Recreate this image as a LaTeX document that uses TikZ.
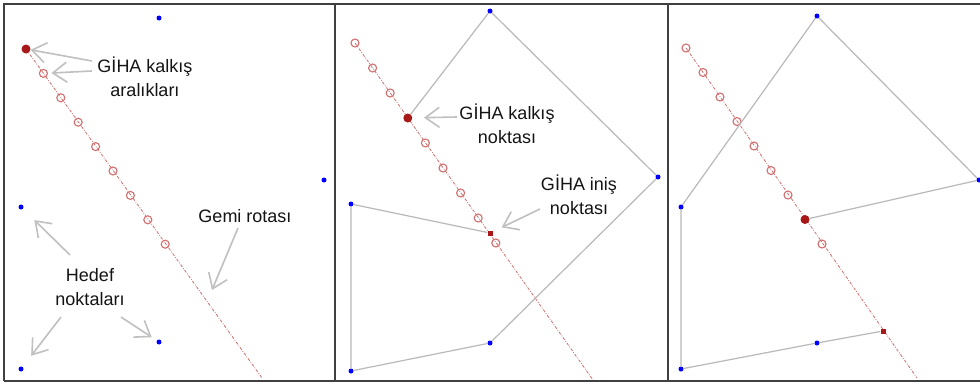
\documentclass[tikz,border=0pt]{standalone}
\usepackage{fontspec}
\setmainfont{Liberation Sans}
\usepackage{tikz}
\usetikzlibrary{arrows.meta,math}
\definecolor{RotaRed}{RGB}{210,110,110}
\definecolor{KalkisRed}{RGB}{168,24,24}
\definecolor{HedefBlue}{RGB}{0,0,255}
\definecolor{LinkGray}{RGB}{185,185,185}
\definecolor{OkGray}{RGB}{192,192,192}
\tikzset{
  hedef/.style={circle,fill=HedefBlue,inner sep=0pt,minimum size=5pt},
  kalkis/.style={circle,fill=KalkisRed,inner sep=0pt,minimum size=9pt},
  inis/.style={rectangle,fill=KalkisRed,inner sep=0pt,minimum size=5pt},
  aralik/.style={circle,draw=RotaRed,line width=1.1pt,inner sep=0pt,minimum size=8pt},
  rota/.style={RotaRed,line width=0.8pt,dash pattern=on 3pt off 1.5pt on 0.8pt off 1.5pt},
  baglanti/.style={LinkGray,line width=1.2pt},
  okcuk/.style={OkGray,line width=1.6pt,-{Straight Barb[length=14pt,width=20pt]}},
  etiket/.style={align=center,font=\fontsize{18}{24}\selectfont,text=black!92}
}

\begin{document}
\begin{tikzpicture}[x=1pt,y=-1pt]
    \tikzmath{
      \dxa=17.4; \dya=24.4; % panel 1 step
      \dxb=17.6; \dyb=25;   % panel 2 step
      \dxc=17;   \dyc=24.5; % panel 3 step
    }
    \useasboundingbox (0,0) rectangle (980,383);
    \fill[white] (0,0) rectangle (980,383);
    % frames
    \draw[black!75,line width=2pt] (4,381) -- (4,3.5) -- (980,3.5);
    \draw[black!75,line width=2pt] (4,381) -- (980,381);
    \draw[black!75,line width=2pt] (334.5,3.5) -- (334.5,381);
    \draw[black!75,line width=2pt] (668,3.5) -- (668,381);

    %% panel 1
    \node[hedef] (h1a) at (159,18) {};
    \node[hedef] (h1b) at (324,180) {};
    \node[hedef] (h1c) at (21,207) {};
    \node[hedef] (h1d) at (159,342) {};
    \node[hedef] (h1e) at (21,369) {};
    \coordinate (r1end) at (262,378);
    \draw[rota] (26,49) -- (r1end);
    \node[kalkis] (r1k) at (26,49) {};
    \foreach \k in {1,...,8}
      \node[aralik] (c1-\k) at (26+\dxa*\k,49+\dya*\k) {};
    \node[etiket] (lblAralik) at (145,77) {GİHA kalkış\\aralıkları};
    \node[etiket] (lblRota) at (245,216) {Gemi rotası};
    \node[etiket] (lblHedef) at (90,287) {Hedef\\noktaları};
    \coordinate (a1s) at (92,61);
    \coordinate (a2s) at (92,71);
    \coordinate (gs) at (238,228);
    \coordinate (gt) at (212,290);
    \coordinate (hs1) at (70,255);
    \coordinate (hs2) at (61,317);
    \coordinate (hs3) at (121,317);
    \draw[okcuk] (a1s) -- (r1k);
    \draw[okcuk,shorten >=3.5pt] (a2s) -- (c1-1);
    \draw[okcuk] (gs) -- (gt);
    \draw[okcuk,shorten >=16pt] (hs1) -- (h1c);
    \draw[okcuk,shorten >=14pt] (hs2) -- (h1e);
    \draw[okcuk,shorten >=6pt] (hs3) -- (h1d);

    %% panel 2
    \node[hedef] (h2a) at (490,11) {};
    \node[hedef] (h2b) at (658,177) {};
    \node[hedef] (h2c) at (351,204) {};
    \node[hedef] (h2d) at (490,343) {};
    \node[hedef] (h2e) at (351,371) {};
    \coordinate (r2end) at (593,380);
    \draw[rota] (355,43) -- (r2end);
    \foreach \k in {0,1,2,4,5,6,7,8}
      \node[aralik] (c2-\k) at (355+\dxb*\k,43+\dyb*\k) {};
    \node[kalkis] (r2k) at (355+\dxb*3,43+\dyb*3) {};
    \node[inis] (r2i) at (490,233) {};
    \draw[baglanti] (r2k) -- (h2a) -- (h2b) -- (h2d) -- (h2e) -- (h2c) -- (r2i);
    \node[etiket] (lblKalkis) at (507,124) {GİHA kalkış\\noktası};
    \node[etiket] (lblInis) at (579,195) {GİHA iniş\\noktası};
    \coordinate (ks) at (457,117);
    \coordinate (is) at (540,209);
    \draw[okcuk,shorten >=11.5pt] (ks) -- (r2k);
    \draw[okcuk,shorten >=10pt] (is) -- (r2i);

    %% panel 3
    \node[hedef] (h3a) at (817,16) {};
    \node[hedef] (h3b) at (979,180) {};
    \node[hedef] (h3c) at (681,207) {};
    \node[hedef] (h3d) at (817,343) {};
    \node[hedef] (h3e) at (681,369) {};
    \coordinate (r3end) at (917,378);
    \draw[rota] (686,48) -- (r3end);
    \foreach \k in {0,...,6,8}
      \node[aralik] (c3-\k) at (686+\dxc*\k,48+\dyc*\k) {};
    \node[kalkis] (r3k) at (686+\dxc*7,48+\dyc*7) {};
    \node[inis] (r3i) at (883,331) {};
    \draw[baglanti] (r3k) -- (h3b) -- (h3a) -- (h3c) -- (h3e) -- (h3d) -- (r3i);
\end{tikzpicture}
\end{document}
